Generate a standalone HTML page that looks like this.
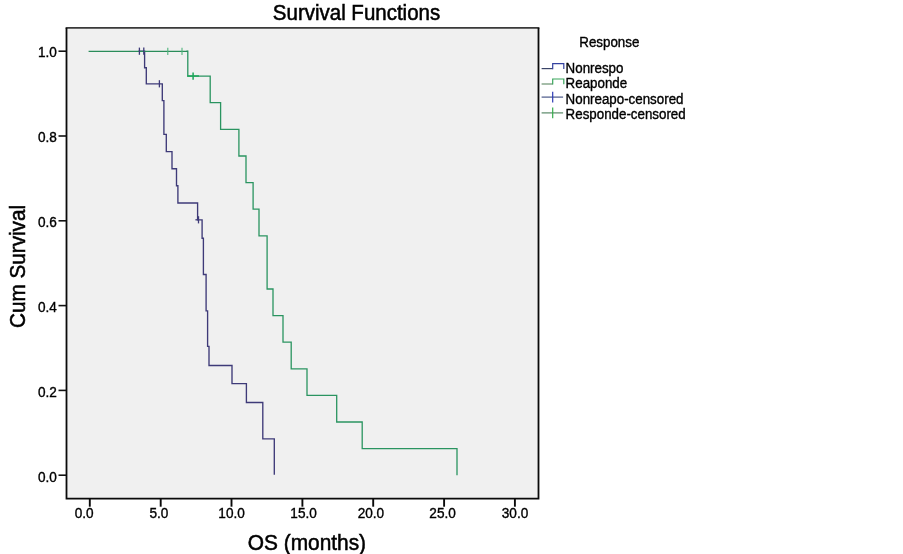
<!DOCTYPE html>
<html><head><meta charset="utf-8"><title>Survival Functions</title>
<style>
html,body{margin:0;padding:0;background:#fff;}
svg{display:block;}
text{font-family:"Liberation Sans",Arial,sans-serif;fill:#000;stroke:#000;stroke-width:0.35px;}
.big{stroke-width:0.5px;}
.xl{font-size:20.9px !important;}
.yl{font-size:20.7px !important;}
.tk{font-size:13.6px;}
.lg{font-size:13.35px;}
.big{font-size:20.5px;}
</style></head><body>
<svg width="903" height="554" viewBox="0 0 903 554">
<rect width="903" height="554" fill="#fff"/>
<rect x="66.5" y="27.9" width="472" height="470.8" fill="#f0f0f0"/>
<path d="M65.6,27.9 H539.4" stroke="#3a3a3a" stroke-width="1.7" fill="none"/>
<path d="M66.5,27.9 V498.7 H538.5 V27.9" stroke="#0a0a0a" stroke-width="1.8" fill="none" stroke-linejoin="miter"/>
<line x1="58.5" x2="66" y1="51.2" y2="51.2" stroke="#111" stroke-width="1.6"/>
<text transform="translate(56.8,57.0) scale(1,1.070)" text-anchor="end" class="tk">1.0</text>
<line x1="58.5" x2="66" y1="136.0" y2="136.0" stroke="#111" stroke-width="1.6"/>
<text transform="translate(56.8,142.1) scale(1,1.070)" text-anchor="end" class="tk">0.8</text>
<line x1="58.5" x2="66" y1="220.8" y2="220.8" stroke="#111" stroke-width="1.6"/>
<text transform="translate(56.8,227.1) scale(1,1.070)" text-anchor="end" class="tk">0.6</text>
<line x1="58.5" x2="66" y1="305.6" y2="305.6" stroke="#111" stroke-width="1.6"/>
<text transform="translate(56.8,312.2) scale(1,1.070)" text-anchor="end" class="tk">0.4</text>
<line x1="58.5" x2="66" y1="390.4" y2="390.4" stroke="#111" stroke-width="1.6"/>
<text transform="translate(56.8,397.2) scale(1,1.070)" text-anchor="end" class="tk">0.2</text>
<line x1="58.5" x2="66" y1="475.2" y2="475.2" stroke="#111" stroke-width="1.6"/>
<text transform="translate(56.8,482.3) scale(1,1.070)" text-anchor="end" class="tk">0.0</text>
<line x1="89.8" x2="89.8" y1="498.5" y2="506.7" stroke="#0a0a0a" stroke-width="1.9"/>
<text transform="translate(84.1,518.2) scale(1,1.070)" text-anchor="middle" class="tk">0.0</text>
<line x1="160.7" x2="160.7" y1="498.5" y2="506.7" stroke="#0a0a0a" stroke-width="1.9"/>
<text transform="translate(158.9,518.2) scale(1,1.070)" text-anchor="middle" class="tk">5.0</text>
<line x1="231.5" x2="231.5" y1="498.5" y2="506.7" stroke="#0a0a0a" stroke-width="1.9"/>
<text transform="translate(231.6,518.2) scale(1,1.070)" text-anchor="middle" class="tk">10.0</text>
<line x1="302.4" x2="302.4" y1="498.5" y2="506.7" stroke="#0a0a0a" stroke-width="1.9"/>
<text transform="translate(303.6,518.2) scale(1,1.070)" text-anchor="middle" class="tk">15.0</text>
<line x1="373.2" x2="373.2" y1="498.5" y2="506.7" stroke="#0a0a0a" stroke-width="1.9"/>
<text transform="translate(370.9,518.2) scale(1,1.070)" text-anchor="middle" class="tk">20.0</text>
<line x1="444.1" x2="444.1" y1="498.5" y2="506.7" stroke="#0a0a0a" stroke-width="1.9"/>
<text transform="translate(442.6,518.2) scale(1,1.070)" text-anchor="middle" class="tk">25.0</text>
<line x1="514.9" x2="514.9" y1="498.5" y2="506.7" stroke="#0a0a0a" stroke-width="1.9"/>
<text transform="translate(515.0,518.2) scale(1,1.070)" text-anchor="middle" class="tk">30.0</text>
<path d="M138.5,51.2 H144.6 V67.7 H146.3 V83.8 H162.3 V100.6 H163.9 V134.3 H166.3 V151.6 H172 V168.7 H176.5 V185.7 H177.9 V203 H197.6 V219.8 H202.1 V238.2 H203.4 V274.5 H206.1 V310.8 H207.6 V346.3 H209 V365.5 H232 V383.6 H246.4 V402.5 H262.8 V438.8 H274.3 V474.8" fill="none" stroke="#3e3a78" stroke-width="1.35"/>
<path d="M186.5,51.2 H187.8 V76.1 H210.2 V102.7 H220.6 V129.3 H238.9 V156.0 H246.0 V182.6 H253.1 V209.2 H259.0 V235.8 H267.1 V289.0 H273.0 V315.6 H283.0 V342.2 H291.2 V368.8 H307.0 V395.4 H336.7 V422.0 H362.2 V448.6 H457.0 V475.2" fill="none" stroke="#2a9460" stroke-width="1.3"/>
<path d="M88.6,51.4 H187.8" fill="none" stroke="#2a8c5a" stroke-width="1.25"/>
<line x1="139.4" x2="139.4" y1="47.6" y2="54.8" stroke="#3e3a78" stroke-width="1.3"/>
<line x1="143.8" x2="143.8" y1="47.6" y2="54.8" stroke="#3e3a78" stroke-width="1.3"/>
<line x1="159.4" x2="159.4" y1="80.2" y2="87.4" stroke="#3e3a78" stroke-width="1.3"/>
<line x1="198.5" x2="198.5" y1="216.2" y2="223.4" stroke="#3e3a78" stroke-width="1.3"/>
<line x1="167.8" x2="167.8" y1="47.8" y2="55.0" stroke="#4fb47c" stroke-width="1.1"/>
<line x1="182.0" x2="182.0" y1="47.8" y2="55.0" stroke="#4fb47c" stroke-width="1.1"/>
<path d="M187.2,76.1 H199 M193.1,72.4 V79.8" fill="none" stroke="#1ea65a" stroke-width="1.5"/>
<path d="M195.4,219.8 H198" fill="none" stroke="#3e3a78" stroke-width="1.3"/>
<text transform="translate(579.3,47.0) scale(1,1.050)" text-anchor="start" class="lg">Response</text>
<text transform="translate(565.6,72.5) scale(1,1.050)" text-anchor="start" class="lg">Nonrespo</text>
<text transform="translate(565.6,88.0) scale(1,1.050)" text-anchor="start" class="lg">Reaponde</text>
<text transform="translate(565.6,103.5) scale(1,1.050)" text-anchor="start" class="lg">Nonreapo-censored</text>
<text transform="translate(565.6,118.9) scale(1,1.050)" text-anchor="start" class="lg">Responde-censored</text>
<path d="M541.6,68.6 H552.7" fill="none" stroke="#3a4468" stroke-width="1.2"/>
<path d="M552.7,69.2 V63.6 H563.8 V68.9" fill="none" stroke="#3442a0" stroke-width="1.2"/>
<path d="M541.6,84.0 H552.7" fill="none" stroke="#6a9070" stroke-width="1.2"/>
<path d="M552.7,84.6 V79.0 H563.8 V84.3" fill="none" stroke="#3aa65c" stroke-width="1.2"/>
<path d="M541.6,97.1 H563.1" fill="none" stroke="#4a5888" stroke-width="1.2"/>
<path d="M552.7,91.8 V102.4" fill="none" stroke="#2c3ab4" stroke-width="1.2"/>
<path d="M541.6,112.9 H563.1" fill="none" stroke="#5a8868" stroke-width="1.2"/>
<path d="M552.7,107.6 V118.2" fill="none" stroke="#36ac4c" stroke-width="1.2"/>
<text transform="translate(356.5,20.0) scale(1,1.050)" text-anchor="middle" class="big">Survival Functions</text>
<text transform="translate(306.9,550.1) scale(1,1.050)" text-anchor="middle" class="big xl">OS (months)</text>
<text transform="translate(25.3,266.5) rotate(-90) scale(1,1.050)" text-anchor="middle" class="big yl">Cum Survival</text>
</svg>
</body></html>
